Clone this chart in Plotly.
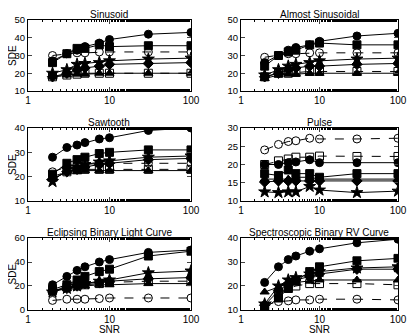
import plotly.graph_objects as go
from plotly.subplots import make_subplots

snr = [2, 3, 4, 5, 7.5, 10, 30, 100]

titles = ["Sinusoid", "Almost Sinusoidal", "Sawtooth", "Pulse",
          "Eclipsing Binary Light Curve", "Spectroscopic Binary RV Curve"]

# series per panel: circle, square, open circle, open square, star, diamond, triangle
sinusoid = [
    [27, 31, 33, 35, 37, 39, 42, 43],
    [26, 31, 34, 34, 36, 35, 35.5, 35.5],
    [30, 31, 31.5, 31.5, 32, 32, 32, 32],
    [18, 19, 19.5, 20, 20, 20, 20, 20],
    [20, 22, 25, 25.5, 26, 27, 28, 28.5],
    [18, 20, 22, 23, 24, 25, 25.5, 26],
    [18, 19, 19.5, 19.5, 20, 20, 20, 20],
]
almost_sin = [
    [26, 30, 33, 34.5, 36, 38, 41, 42.5],
    [24, 30, 32, 33, 36, 37, 36, 36],
    [29, 30, 31, 31, 31.5, 31.5, 31.5, 31.5],
    [18, 20, 20, 20.5, 21, 21, 21, 21],
    [19, 22, 24, 25, 26, 27, 28, 28.5],
    [18, 20, 22, 23, 24, 24, 25, 25.5],
    [17, 19, 19.5, 19.5, 20, 20, 20, 20],
]
sawtooth = [
    [28, 32, 33, 34, 35.5, 36, 39, 40],
    [21, 25.5, 27, 28, 29.5, 30, 31, 31],
    [22, 24, 25, 25, 25.5, 25.5, 25.5, 25.5],
    [20, 22, 23, 23, 23, 23, 23, 23],
    [18, 23, 24, 25, 26, 26.5, 28, 28.5],
    [19, 22, 23, 24, 25, 25.5, 27, 27.5],
    [19, 22, 22, 22.5, 22.5, 22.5, 22.5, 22.5],
]
pulse = [
    [20, 20, 20.5, 20.7, 21.3, 20.5, 20.5, 20.5],
    [17.5, 17, 18.5, 17.5, 17.5, 16.5, 17.5, 17.5],
    [24, 25.5, 26.3, 26.5, 27.2, 27, 27, 27.2],
    [20, 21, 21.5, 22, 22, 22.3, 22.2, 22.2],
    [12.5, 12.3, 12.5, 12.5, 14, 13, 12.3, 12.7],
    [15.2, 15.5, 15.5, 15.5, 15.5, 15.5, 15.5, 15.5],
    [16, 16, 16, 16.5, 16.5, 16, 16, 16],
]
eclipsing = [
    [21, 28, 33, 36, 40, 42, 48, 50],
    [17, 21, 25, 28, 32, 34, 45, 49],
    [8, 9, 9, 9, 9.5, 10, 10, 10],
    [16, 19, 20, 21, 22, 23, 24, 24],
    [15, 18, 20, 22, 24, 25, 31, 32.5],
    [16, 18, 20, 22, 23, 24, 26, 27],
    [16, 18, 20, 20, 21, 21, 22, 22],
]
spectro = [
    [21.5, 28, 31, 32.5, 34.5, 35.5, 38, 39.5],
    [10.5, 15, 19, 22, 26, 28, 30.5, 31.5],
    [12, 13.5, 13.8, 14.2, 14.2, 14.5, 14.5, 14.2],
    [11, 16, 19, 20, 21, 21, 21, 20.5],
    [12.5, 20, 22.5, 23.5, 25, 26, 27.5, 28],
    [12, 18, 21, 22.5, 24, 25, 27, 27],
    [17.5, 19.5, 21, 21.5, 22, 22.5, 22.5, 22.5],
]

panels = [sinusoid, almost_sin, sawtooth, pulse, eclipsing, spectro]
yranges = [[10, 50], [10, 50], [10, 40], [10, 30], [0, 60], [10, 40]]
yticks = [[10, 20, 30, 40, 50], [10, 20, 30, 40, 50], [10, 20, 30, 40],
          [10, 15, 20, 25, 30], [0, 20, 40, 60], [10, 20, 30, 40]]

symbols = ["circle", "square", "circle-open", "square-open", "star", "diamond", "triangle-up"]
dashes = ["solid", "solid", "dash", "dash", "solid", "solid", "solid"]

fig = make_subplots(rows=3, cols=2)

# page has an 8px body margin, so the figure is 399x327 and shifted
xdom = [[0.0501, 0.4586], [0.584, 0.9774]]
ydom = [[0.7462, 0.9633], [0.4098, 0.6330], [0.0765, 0.2966]]

font = "Liberation Sans, Arial, sans-serif"

for i, data in enumerate(panels):
    r = i // 2 + 1
    c = i % 2 + 1
    for s, vals in enumerate(data):
        fig.add_trace(go.Scatter(
            x=snr, y=vals, mode="lines+markers",
            line=dict(color="black", width=1, dash=dashes[s]),
            marker=dict(symbol=symbols[s], size=8 if s != 4 else 9, color="black",
                        line=dict(color="black", width=1)),
            showlegend=False), row=r, col=c)
    fig.update_xaxes(type="log", range=[0, 2], tickvals=[1, 10, 100], ticktext=["1", "10", "100"],
                     ticks="inside", ticklen=4, mirror="allticks", showline=True, linecolor="black",
                     linewidth=1, showgrid=False, zeroline=False, automargin=False,
                     minor=dict(ticks="inside", ticklen=2, tickcolor="black", showgrid=False),
                     domain=xdom[c - 1], tickfont=dict(size=10, color="black"),
                     title=dict(text="SNR" if r == 3 else "", font=dict(size=10, color="black"), standoff=0),
                     row=r, col=c)
    fig.update_yaxes(range=yranges[i], tickvals=yticks[i], ticks="inside", ticklen=4,
                     mirror="allticks", showline=True, linecolor="black", linewidth=1,
                     showgrid=False, zeroline=False, domain=ydom[r - 1], automargin=False,
                     tickfont=dict(size=9.5, color="black"),
                     row=r, col=c)
    fig.add_annotation(text=titles[i], x=sum(xdom[c - 1]) / 2, y=ydom[r - 1][1],
                       xref="paper", yref="paper", xanchor="center", yanchor="bottom",
                       yshift=-2, showarrow=False, font=dict(size=10, color="black"))
    if c == 1:
        fig.add_annotation(text="SDE", x=0, y=sum(ydom[r - 1]) / 2, xref="paper", yref="paper",
                           xanchor="left", yanchor="middle", textangle=-90, showarrow=False,
                           xshift=-3, font=dict(size=10, color="black"))

fig.update_layout(width=399, height=327, margin=dict(l=0, r=0, t=0, b=0),
                  plot_bgcolor="white", paper_bgcolor="white",
                  font=dict(family=font, size=10, color="black"))

fig.write_html("out.html")
